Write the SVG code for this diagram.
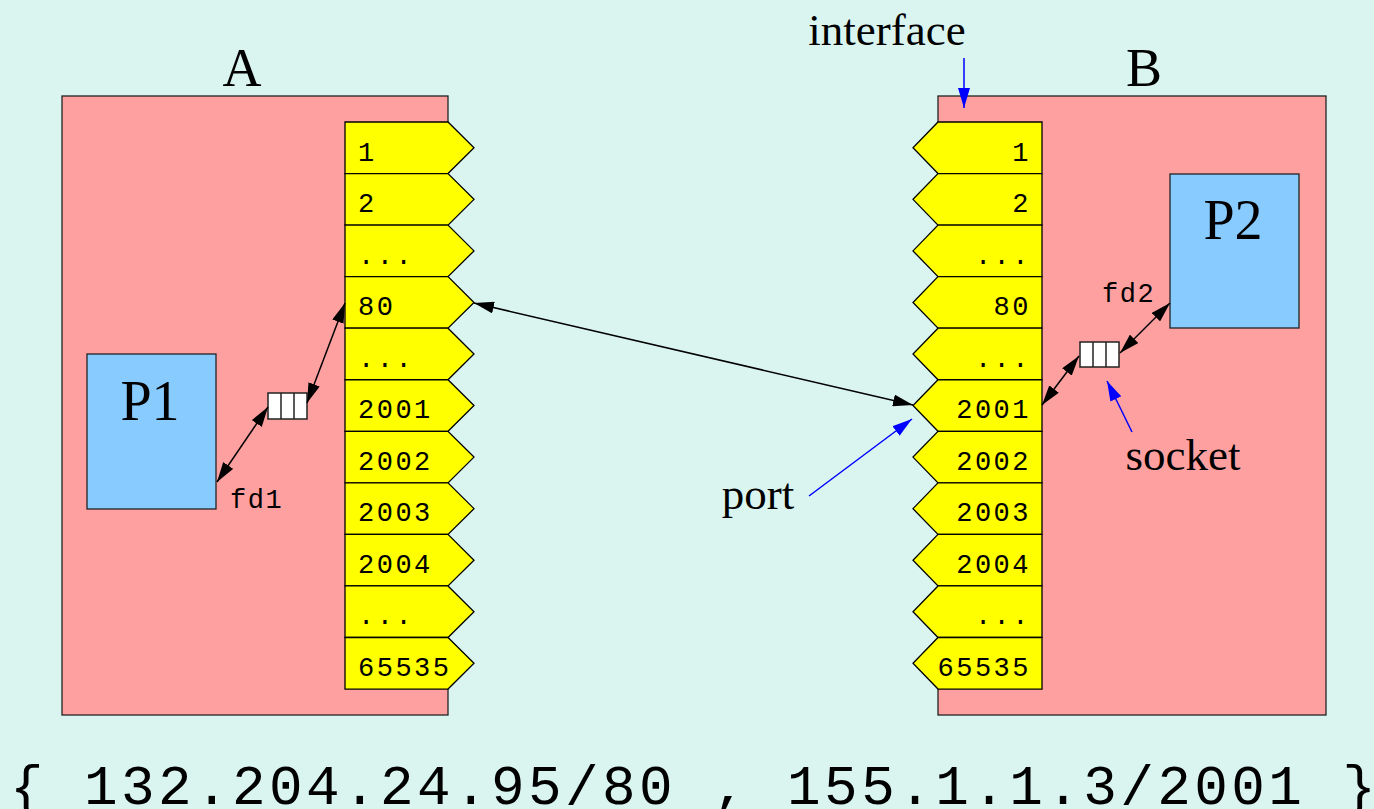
<svg xmlns="http://www.w3.org/2000/svg" xmlns:xlink="http://www.w3.org/1999/xlink" width="1374" height="809" viewBox="0 0 1374 809">
<style>
.bg{fill:#daf5f0}
.host{fill:#ffa0a0;stroke:#222;stroke-width:1.3}
.proc{fill:#88ccff;stroke:#222;stroke-width:1.3}
.port{fill:#ffff00;stroke:#000;stroke-width:1.3}
.sock{fill:#fff;stroke:#222;stroke-width:1.5}
.num{font-family:"Liberation Mono",monospace;font-size:27px;letter-spacing:2.5px;fill:#000}
.fd{font-family:"Liberation Mono",monospace;font-size:27px;letter-spacing:1.5px;fill:#000}
.serif{font-family:"Liberation Serif",serif;fill:#000}
.lbl{font-size:45px}
.big{font-size:54px}
.con{stroke:#000;stroke-width:1.5;fill:none;marker-start:url(#ah);marker-end:url(#ah)}
.blu{stroke:#0000ff;stroke-width:1.5;fill:none;marker-end:url(#bh)}
</style>
<defs>
<marker id="ah" viewBox="0 0 20 12" refX="20" refY="6" markerWidth="20" markerHeight="12" markerUnits="userSpaceOnUse" orient="auto-start-reverse">
<path d="M0,0 L20,6 L0,12 Z" fill="#000"/>
</marker>
<marker id="bh" viewBox="0 0 20 12" refX="20" refY="6" markerWidth="20" markerHeight="12" markerUnits="userSpaceOnUse" orient="auto">
<path d="M0,0 L20,6 L0,12 Z" fill="#0000ff"/>
</marker>
<polygon id="lp" class="port" points="345,0 448,0 474,25.8 448,51.55 345,51.55"/>
<polygon id="rp" class="port" points="1042,0 938,0 913,25.8 938,51.55 1042,51.55"/>
</defs>
<rect class="bg" x="0" y="0" width="1374" height="809"/>

<g id="hostA">
<rect class="host" x="62" y="96" width="386" height="619"/>
<text class="serif big" x="242" y="86" text-anchor="middle">A</text>
</g>
<g id="hostB">
<rect class="host" x="938" y="96" width="388" height="619"/>
<text class="serif big" x="1144" y="86" text-anchor="middle">B</text>
</g>

<g id="portsA">
<g id="a1"><use xlink:href="#lp" y="122"/><text class="num" x="358" y="160.5">1</text></g>
<g id="a2"><use xlink:href="#lp" y="173.55"/><text class="num" x="358" y="212">2</text></g>
<g id="a3"><use xlink:href="#lp" y="225.1"/><text class="num" x="358" y="263.6">...</text></g>
<g id="a80"><use xlink:href="#lp" y="276.65"/><text class="num" x="358" y="315.1">80</text></g>
<g id="a5"><use xlink:href="#lp" y="328.2"/><text class="num" x="358" y="366.7">...</text></g>
<g id="a2001"><use xlink:href="#lp" y="379.75"/><text class="num" x="358" y="418.2">2001</text></g>
<g id="a2002"><use xlink:href="#lp" y="431.3"/><text class="num" x="358" y="469.8">2002</text></g>
<g id="a2003"><use xlink:href="#lp" y="482.85"/><text class="num" x="358" y="521.3">2003</text></g>
<g id="a2004"><use xlink:href="#lp" y="534.4"/><text class="num" x="358" y="572.9">2004</text></g>
<g id="a10"><use xlink:href="#lp" y="585.95"/><text class="num" x="358" y="624.4">...</text></g>
<g id="a65535"><use xlink:href="#lp" y="637.5"/><text class="num" x="358" y="676">65535</text></g>
</g>

<g id="portsB">
<g id="b1"><use xlink:href="#rp" y="122"/><text class="num" x="1031" y="160.5" text-anchor="end">1</text></g>
<g id="b2"><use xlink:href="#rp" y="173.55"/><text class="num" x="1031" y="212" text-anchor="end">2</text></g>
<g id="b3"><use xlink:href="#rp" y="225.1"/><text class="num" x="1031" y="263.6" text-anchor="end">...</text></g>
<g id="b80"><use xlink:href="#rp" y="276.65"/><text class="num" x="1031" y="315.1" text-anchor="end">80</text></g>
<g id="b5"><use xlink:href="#rp" y="328.2"/><text class="num" x="1031" y="366.7" text-anchor="end">...</text></g>
<g id="b2001"><use xlink:href="#rp" y="379.75"/><text class="num" x="1031" y="418.2" text-anchor="end">2001</text></g>
<g id="b2002"><use xlink:href="#rp" y="431.3"/><text class="num" x="1031" y="469.8" text-anchor="end">2002</text></g>
<g id="b2003"><use xlink:href="#rp" y="482.85"/><text class="num" x="1031" y="521.3" text-anchor="end">2003</text></g>
<g id="b2004"><use xlink:href="#rp" y="534.4"/><text class="num" x="1031" y="572.9" text-anchor="end">2004</text></g>
<g id="b10"><use xlink:href="#rp" y="585.95"/><text class="num" x="1031" y="624.4" text-anchor="end">...</text></g>
<g id="b65535"><use xlink:href="#rp" y="637.5"/><text class="num" x="1031" y="676" text-anchor="end">65535</text></g>
</g>

<g id="P1">
<rect class="proc" x="87" y="354" width="129" height="155"/>
<text class="serif" font-size="56" x="150" y="420" text-anchor="middle">P1</text>
</g>
<g id="P2">
<rect class="proc" x="1170" y="174" width="129" height="154"/>
<text class="serif" font-size="56" x="1233" y="239" text-anchor="middle">P2</text>
</g>

<g id="socketA">
<rect class="sock" x="268" y="393" width="39" height="26"/>
<line x1="281" y1="393" x2="281" y2="419" stroke="#222" stroke-width="1.5"/>
<line x1="294" y1="393" x2="294" y2="419" stroke="#222" stroke-width="1.5"/>
</g>
<g id="socketB">
<rect class="sock" x="1080" y="342" width="39" height="25"/>
<line x1="1093" y1="342" x2="1093" y2="367" stroke="#222" stroke-width="1.5"/>
<line x1="1106" y1="342" x2="1106" y2="367" stroke="#222" stroke-width="1.5"/>
</g>

<g id="labels">
<text class="fd" x="230" y="508">fd1</text>
<text class="fd" x="1102" y="302">fd2</text>
<text class="serif lbl" x="887" y="45" text-anchor="middle">interface</text>
<text class="serif lbl" x="758" y="509" text-anchor="middle">port</text>
<text class="serif lbl" x="1183" y="470" text-anchor="middle">socket</text>
<text font-family="Liberation Mono, monospace" font-size="56" letter-spacing="3.4" x="10" y="804">{ 132.204.24.95/80 , 155.1.1.3/2001 }</text>
</g>

<g id="connectors">
<line class="con" x1="217" y1="482" x2="268" y2="407"/>
<line class="con" x1="307" y1="403" x2="345" y2="303"/>
<line class="con" x1="474" y1="303" x2="913" y2="405"/>
<line class="con" x1="1042" y1="405" x2="1079" y2="356"/>
<line class="con" x1="1120" y1="353" x2="1170" y2="303"/>
<line class="blu" x1="964" y1="58" x2="964" y2="108"/>
<line class="blu" x1="809" y1="496" x2="912" y2="419"/>
<line class="blu" x1="1132" y1="432" x2="1107" y2="381"/>
</g>
</svg>
